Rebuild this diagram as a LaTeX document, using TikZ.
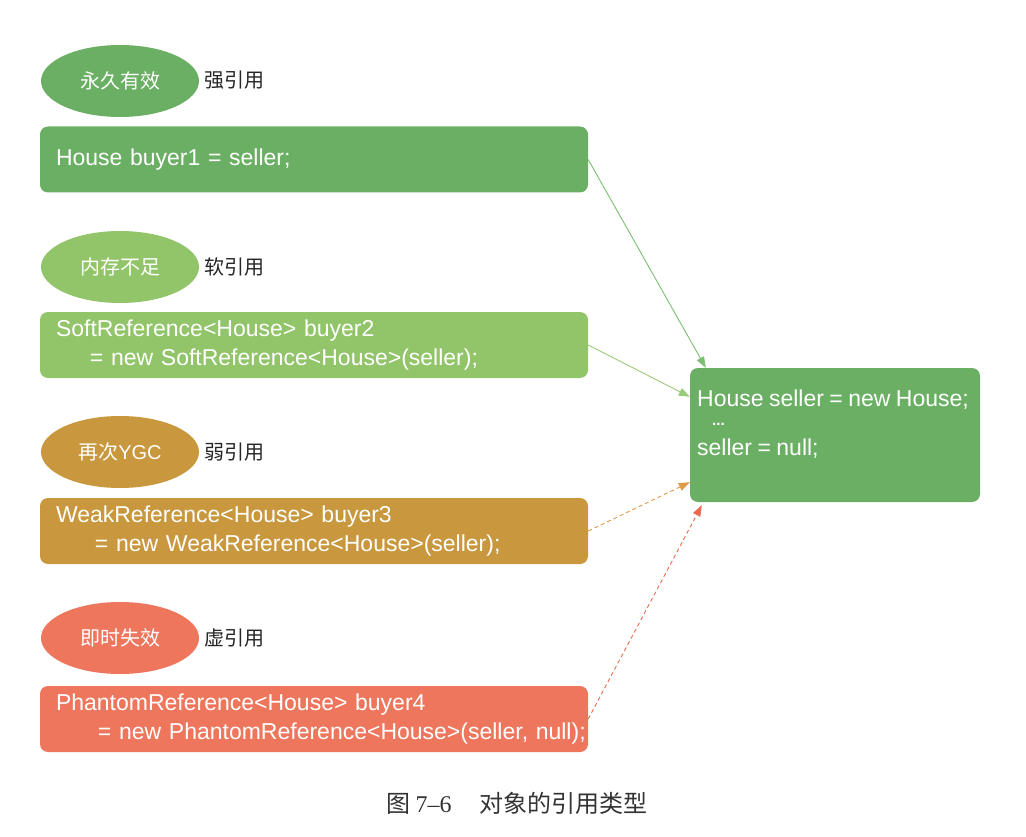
\documentclass[tikz,border=0pt]{standalone}
\usepackage{fontspec}
\setmainfont{Liberation Sans}[WordSpace=0.85]
\newfontfamily\cjk{Noto Sans CJK SC}
\newfontfamily\serifnum{Liberation Serif}
\usetikzlibrary{arrows.meta,shapes.geometric,calc}
\definecolor{gA}{HTML}{6BAF64}
\definecolor{gB}{HTML}{92C56A}
\definecolor{goldc}{HTML}{C9973D}
\definecolor{salm}{HTML}{EE765D}
\definecolor{arA}{HTML}{7CBF72}
\definecolor{arB}{HTML}{9ACB78}
\definecolor{arC}{HTML}{E09A4A}
\definecolor{arD}{HTML}{EC6A50}
\definecolor{capc}{HTML}{333333}
\begin{document}
\begin{tikzpicture}[x=1pt,y=-1pt,
 oval/.style={ellipse, minimum width=158pt, minimum height=72pt, inner sep=0pt, text=white, font=\cjk\fontsize{20}{24}\selectfont},
 tag/.style={anchor=west, inner sep=0pt, font=\cjk\fontsize{20}{24}\selectfont, text=black!85},
 codebox/.style={rounded corners=8pt, minimum height=66pt, text width=516pt, inner xsep=16pt, inner ysep=0pt, align=left, text=white, font=\fontsize{23}{29}\selectfont},
 codetext/.style={anchor=base west, inner sep=0pt, text=white, font=\fontsize{23}{29}\selectfont},
 ref/.style={-{Triangle[length=11pt,width=8pt]}, line width=0.9pt},
 refdash/.style={ref, dash pattern=on 4pt off 3pt},
]
\useasboundingbox (0,0) rectangle (1026,837);
\fill[white] (0,0) rectangle (1026,837);

% strong
\node[oval, fill=gA] (e1) at (120,81) {永久有效};
\node[tag] (t1) at (204,80) {强引用};
\node[codebox, fill=gA] (b1) at (314,159.5) {House buyer1 = seller;};

% soft
\node[oval, fill=gB] (e2) at (120,267) {内存不足};
\node[tag] (t2) at (204,267) {软引用};
\node[codebox, fill=gB] (b2) at (314,345) {\mbox{SoftReference<House> buyer2}\\\mbox{\hspace*{34pt}= new SoftReference<House>(seller);}};

% weak
\node[oval, fill=goldc] (e3) at (120,452) {再次{\rmfamily YGC}};
\node[tag] (t3) at (204,452) {弱引用};
\node[codebox, fill=goldc] (b3) at (314,531) {\mbox{WeakReference<House> buyer3}\\\mbox{\hspace*{39pt}= new WeakReference<House>(seller);}};

% phantom
\node[oval, fill=salm] (e4) at (120,638) {即时失效};
\node[tag] (t4) at (204,638) {虚引用};
\node[codebox, fill=salm] (b4) at (314,719) {\mbox{PhantomReference<House> buyer4}\\\mbox{\hspace*{42pt}= new PhantomReference<House>(seller, null);}};

% referent
\node[rounded corners=8pt, fill=gA, minimum width=290pt, minimum height=134pt, inner sep=0pt] (r) at (835,435) {};
\node[codetext] (r1) at (697,406) {House seller = new House;};
\node[codetext, font=\bfseries\fontsize{15}{15}\selectfont] (r2) at (712,425) {...};
\node[codetext] (r3) at (697,455) {seller = null;};

% connectors
\draw[ref, arA] (b1.east) -- ($(r.north west)+(16pt,0pt)$);
\draw[ref, arB] (b2.east) -- ($(r.north west)+(0pt,-29pt)$);
\draw[refdash, arC] (b3.east) -- ($(r.south west)+(0pt,20pt)$);
\draw[refdash, arD] (b4.east) -- ($(r.south west)+(12pt,-3pt)$);

% caption
\node[text=capc, font=\cjk\fontsize{24}{28}\selectfont] (cap) at (517,803) {图 {\serifnum 7–6}\hspace{28pt}对象的引用类型};
\end{tikzpicture}
\end{document}
